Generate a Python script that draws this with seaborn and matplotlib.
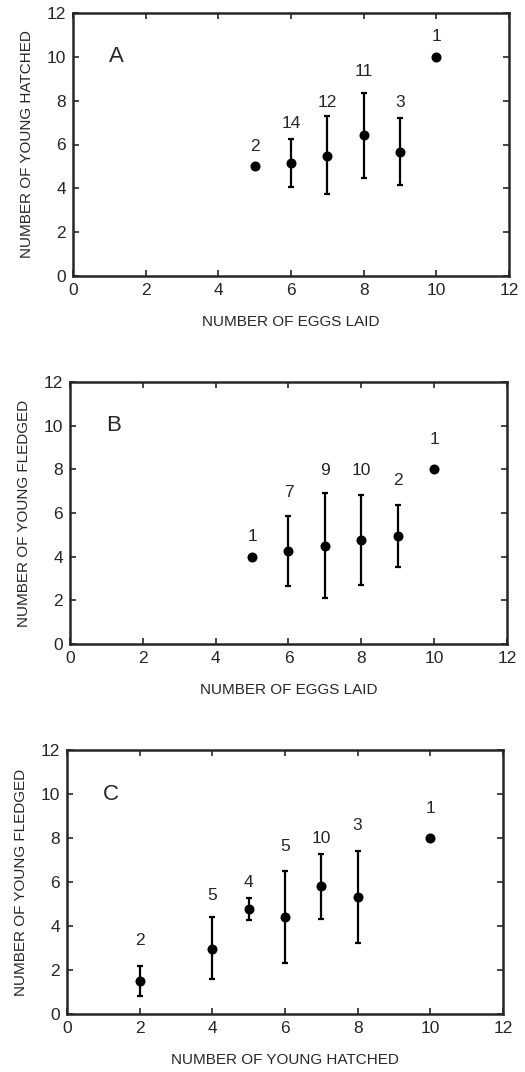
import matplotlib
matplotlib.use("Agg")
import matplotlib.pyplot as plt
import seaborn as sns
import numpy as np
import pandas as pd

sns.set_style("ticks")
plt.rcParams['font.family'] = ['Liberation Sans', 'DejaVu Sans']

# Panel A: eggs laid vs young hatched
a_x = [5, 6, 7, 8, 9, 10]
a_mean = [5.0, 5.15, 5.48, 6.44, 5.65, 10.0]
a_low = [5.0, 4.05, 3.73, 4.49, 4.13, 10.0]
a_high = [5.0, 6.24, 7.28, 8.37, 7.2, 10.0]
a_n = ["2", "14", "12", "11", "3", "1"]
a_label_y = [5.9, 6.94, 7.92, 9.33, 7.92, 10.93]

# Panel B: eggs laid vs young fledged
b_x = [5, 6, 7, 8, 9, 10]
b_mean = [4.0, 4.25, 4.51, 4.76, 4.96, 8.0]
b_low = [4.0, 2.65, 2.12, 2.70, 3.54, 8.0]
b_high = [4.0, 5.86, 6.92, 6.82, 6.37, 8.0]
b_n = ["1", "7", "9", "10", "2", "1"]
b_label_y = [4.91, 6.92, 7.96, 7.96, 7.5, 9.36]

# Panel C: young hatched vs young fledged
c_x = [2, 4, 5, 6, 7, 8, 10]
c_mean = [1.5, 2.97, 4.76, 4.39, 5.82, 5.33, 8.0]
c_low = [0.82, 1.58, 4.27, 2.30, 4.32, 3.21, 8.0]
c_high = [2.2, 4.41, 5.29, 6.52, 7.27, 7.41, 8.0]
c_n = ["2", "5", "4", "5", "10", "3", "1"]
c_label_y = [3.33, 5.38, 5.97, 7.6, 7.98, 8.55, 9.35]

ticks = [0, 2, 4, 6, 8, 10, 12]

panels = [
    ("A", a_x, a_mean, a_low, a_high, a_n, a_label_y,
     "NUMBER OF EGGS LAID", "NUMBER OF YOUNG HATCHED",
     [73/525, (1072-276)/1072, 436/525, 263/1072]),
    ("B", b_x, b_mean, b_low, b_high, b_n, b_label_y,
     "NUMBER OF EGGS LAID", "NUMBER OF YOUNG FLEDGED",
     [70/525, (1072-644)/1072, 437/525, 262/1072]),
    ("C", c_x, c_mean, c_low, c_high, c_n, c_label_y,
     "NUMBER OF YOUNG HATCHED", "NUMBER OF YOUNG FLEDGED",
     [67/525, (1072-1014)/1072, 436/525, 264/1072]),
]

fig = plt.figure(figsize=(5.25, 10.72), dpi=100)

for letter, xs, means, lows, highs, ns, ly, xlab, ylab, pos in panels:
    ax = fig.add_axes(pos)
    df = pd.DataFrame({"x": xs, "y": means})
    xs_a = np.array(xs, dtype=float)
    m = np.array(means)
    lo = np.array(lows)
    hi = np.array(highs)
    has_err = (hi - lo) > 0
    ax.errorbar(xs_a[has_err], m[has_err],
                yerr=[m[has_err] - lo[has_err], hi[has_err] - m[has_err]],
                fmt="none", ecolor="black", elinewidth=1.6, capsize=2.5,
                capthick=1.6, zorder=2)
    sns.scatterplot(data=df, x="x", y="y", ax=ax, color="black", s=52,
                    edgecolor="black", linewidth=0, zorder=3, legend=False)
    for xi, lab, yy in zip(xs, ns, ly):
        ax.text(xi, yy, lab, ha="center", va="center", fontsize=12.5)
    ax.text(1.2, 10.0, letter, ha="center", va="center", fontsize=16)
    ax.set_xlim(0, 12)
    ax.set_ylim(0, 12)
    ax.set_xticks(ticks)
    ax.set_yticks(ticks)
    ax.tick_params(direction="in", length=4, width=1.2, top=True, right=True,
                   labelsize=12.5, pad=5)
    for sp in ax.spines.values():
        sp.set_linewidth(1.8)
        sp.set_visible(True)
    ax.set_xlabel(xlab, fontsize=11, labelpad=12)
    ax.set_ylabel(ylab, fontsize=11, labelpad=9)

fig.savefig("out.png", dpi=100)
